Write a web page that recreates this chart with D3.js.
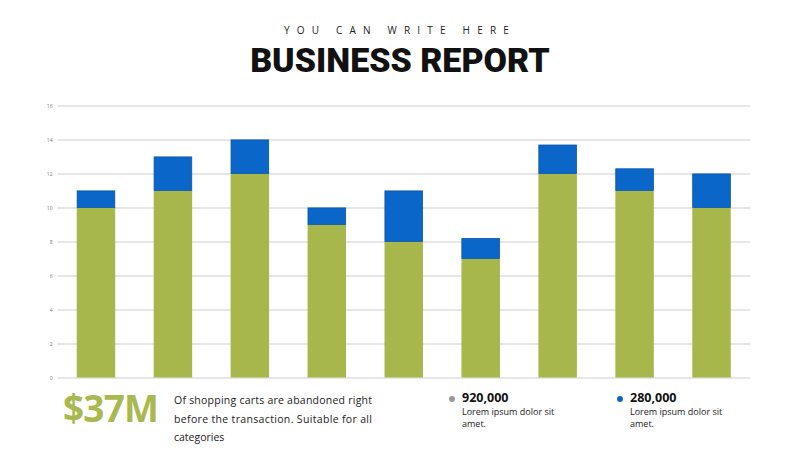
<!DOCTYPE html>
<html>
<head>
<meta charset="utf-8">
<script src="https://cdn.jsdelivr.net/npm/d3@7"></script>
<style>
  html, body { margin: 0; padding: 0; background: #ffffff; }
  svg { display: block; }
</style>
</head>
<body>
<div class="business-chart"></div>
<script>
// data
const categories = ['A', 'B', 'C', 'D', 'E', 'F', 'G', 'H', 'I'];
const greenValues = [10, 11, 12, 9, 8, 7, 12, 11, 10];
const blueValues = [1, 2, 2, 1, 3, 1.2, 1.7, 1.3, 2];
const yTicks = [0, 2, 4, 6, 8, 10, 12, 14, 16];
const legendValues = ['920,000', '280,000'];

const containerWidth = 800;
const containerHeight = 450;

const margin = { top: 105.5, right: 50, bottom: 72.5, left: 57.5 };
const graphWidth = containerWidth - margin.left - margin.right;
const graphHeight = containerHeight - margin.top - margin.bottom;

const green = '#a7b74b';
const blue = '#0a66c8';

const svg = d3
  .select('.business-chart')
  .append('svg')
  .attr('width', containerWidth)
  .attr('height', containerHeight);

const graph = svg
  .append('g')
  .attr('transform', `translate(${margin.left}, ${margin.top})`);

const xScale = d3
  .scaleBand()
  .domain(categories)
  .range([0, graphWidth])
  .paddingInner(0.5)
  .paddingOuter(0.25);

const yScale = d3.scaleLinear().domain([0, 16]).range([graphHeight, 0]);

const yAxis = d3
  .axisLeft(yScale)
  .tickValues(yTicks)
  .tickSize(-graphWidth)
  .tickPadding(5);

const yAxisGroup = graph.append('g').call(yAxis);
yAxisGroup.select('.domain').remove();
yAxisGroup
  .selectAll('.tick line')
  .attr('stroke', '#dedede')
  .attr('stroke-width', 1.4);
yAxisGroup
  .selectAll('.tick text')
  .attr('fill', '#777')
  .style('font-family', 'Open Sans, sans-serif')
  .style('font-size', '5px');

// stacked bars
const stacked = categories.map((c, i) => ({
  cat: c,
  green: greenValues[i],
  blue: blueValues[i],
}));

graph
  .selectAll('.bar-green')
  .data(stacked)
  .enter()
  .append('rect')
  .attr('class', 'bar-green')
  .attr('x', (d) => xScale(d.cat))
  .attr('width', xScale.bandwidth())
  .attr('y', (d) => yScale(d.green))
  .attr('height', (d) => yScale(0) - yScale(d.green))
  .attr('fill', green);

graph
  .selectAll('.bar-blue')
  .data(stacked)
  .enter()
  .append('rect')
  .attr('class', 'bar-blue')
  .attr('x', (d) => xScale(d.cat) + 0.4)
  .attr('width', xScale.bandwidth() - 0.8)
  .attr('y', (d) => yScale(d.green + d.blue) + 0.4)
  .attr('height', (d) => yScale(d.green) - yScale(d.green + d.blue) - 0.4)
  .attr('fill', blue)
  .attr('stroke', '#0b55a8')
  .attr('stroke-width', 0.8);

// titles
svg
  .append('text')
  .attr('x', containerWidth / 2)
  .attr('y', 34)
  .attr('text-anchor', 'middle')
  .style('font-family', 'Open Sans, sans-serif')
  .style('font-size', '10px')
  .style('letter-spacing', '7.2px')
  .attr('fill', '#222')
  .text('YOU CAN WRITE HERE');

svg
  .append('text')
  .attr('x', containerWidth / 2)
  .attr('y', 72)
  .attr('text-anchor', 'middle')
  .style('font-family', 'Roboto, sans-serif')
  .style('font-weight', '900')
  .style('font-size', '34px')
  .attr('fill', '#111')
  .text('BUSINESS REPORT');

// bottom statement
svg
  .append('text')
  .attr('x', 63)
  .attr('y', 422)
  .style('font-family', 'Open Sans, sans-serif')
  .style('font-weight', '700')
  .style('font-size', '37px')
  .style('letter-spacing', '-0.8px')
  .attr('fill', '#a9b84f')
  .text('$37M');

const paraLines = [
  'Of shopping carts are abandoned right',
  'before the transaction. Suitable for all',
  'categories',
];
svg
  .selectAll('.para')
  .data(paraLines)
  .enter()
  .append('text')
  .attr('class', 'para')
  .attr('x', 174)
  .attr('y', (d, i) => 404 + i * 18.5)
  .attr('textLength', (d, i) => (i < 2 ? 198 : null))
  .attr('lengthAdjust', 'spacing')
  .style('font-family', 'Open Sans, sans-serif')
  .style('font-size', '10.5px')
  .attr('fill', '#222')
  .text((d) => d);

// legend blocks
const legendColors = ['#9a9a9a', blue];
const legendX = [452, 620];

legendValues.forEach((v, i) => {
  svg
    .append('circle')
    .attr('cx', legendX[i])
    .attr('cy', 399)
    .attr('r', 3)
    .attr('fill', legendColors[i]);
  svg
    .append('text')
    .attr('x', legendX[i] + 10)
    .attr('y', 402)
    .style('font-family', 'Open Sans, sans-serif')
    .style('font-weight', '700')
    .style('font-size', '12.5px')
    .attr('fill', '#111')
    .text(v);
  svg
    .append('text')
    .attr('x', legendX[i] + 10)
    .attr('y', 415)
    .style('font-family', 'Open Sans, sans-serif')
    .style('font-size', '9px')
    .attr('fill', '#222')
    .text('Lorem ipsum dolor sit');
  svg
    .append('text')
    .attr('x', legendX[i] + 10)
    .attr('y', 427)
    .style('font-family', 'Open Sans, sans-serif')
    .style('font-size', '9px')
    .attr('fill', '#222')
    .text('amet.');
});
</script>
</body>
</html>
